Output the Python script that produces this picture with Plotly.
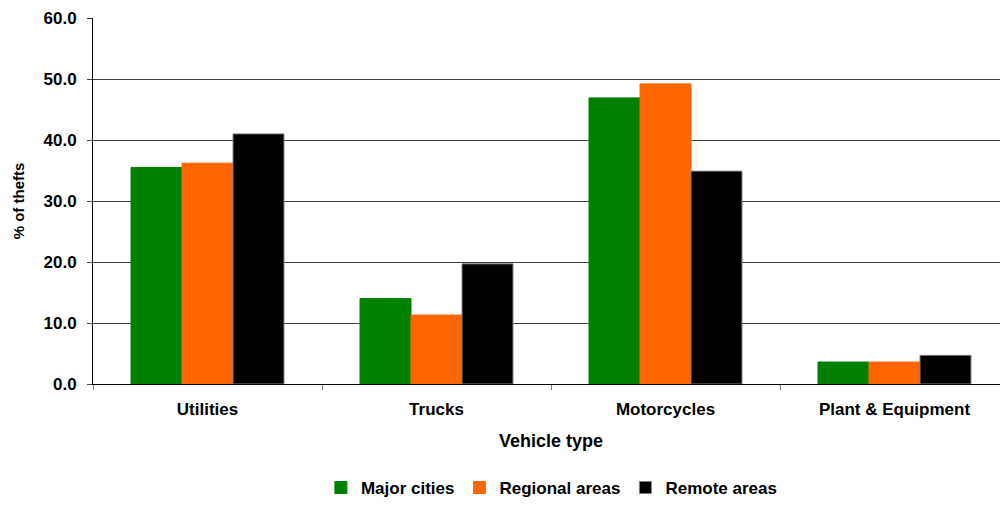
import plotly.graph_objects as go

categories = ["Utilities", "Trucks", "Motorcycles", "Plant & Equipment"]
series_names = ["Major cities", "Regional areas", "Remote areas"]
major_cities = [35.5, 14.0, 46.9, 3.6]
regional_areas = [36.2, 11.3, 49.2, 3.6]
remote_areas = [41.0, 19.7, 34.9, 4.7]
y_ticks = [0, 10, 20, 30, 40, 50, 60]

colors = ["#008000", "#FF6600", "#000000"]
line_colors = ["#008000", "#FF6600", "#808080"]

fig = go.Figure()
for name, vals, c, lc in zip(series_names, [major_cities, regional_areas, remote_areas], colors, line_colors):
    fig.add_trace(go.Bar(
        x=categories, y=vals, name=name,
        marker=dict(color=c, line=dict(color=lc, width=1)),
    ))

font_family = "Liberation Sans, Arial, sans-serif"
fig.update_layout(
    width=1009, height=506,
    margin=dict(l=93, r=0, t=18, b=122, autoexpand=False),
    paper_bgcolor="white", plot_bgcolor="white",
    barmode="group", bargap=0.332, bargroupgap=0,
    font=dict(family=font_family, size=17, color="black"),
    showlegend=True,
    legend=dict(orientation="h", x=0.501, xanchor="center", y=-0.284, yanchor="middle",
                font=dict(family=font_family, size=17, color="black", weight="bold"),
                itemwidth=30, tracegroupgap=0),
    xaxis=dict(
        title=dict(text="<b>Vehicle type</b>", font=dict(size=18), standoff=15),
        tickfont=dict(family=font_family, size=17, weight="bold"),
        showline=True, linecolor="black", linewidth=1,
        ticks="outside", tickson="boundaries", ticklen=5, tickcolor="#808080",
        ticklabelstandoff=10,
        showgrid=False, automargin=False,
    ),
    yaxis=dict(
        title=dict(text="<b>% of thefts</b>", font=dict(size=15), standoff=15),
        range=[0, 60], tickvals=y_ticks, tickformat=".1f",
        tickfont=dict(family=font_family, size=17, weight="bold"),
        showline=True, linecolor="black", linewidth=1,
        ticks="outside", ticklen=5, tickcolor="#404040",
        ticklabelstandoff=7,
        showgrid=True, gridcolor="#404040", gridwidth=1,
        zeroline=False, automargin=False,
    ),
)

fig.write_html(
    "out.html",
    config={"displayModeBar": False},
    post_script="document.body.style.margin='0';document.body.style.overflow='hidden';document.documentElement.style.overflow='hidden';",
)
